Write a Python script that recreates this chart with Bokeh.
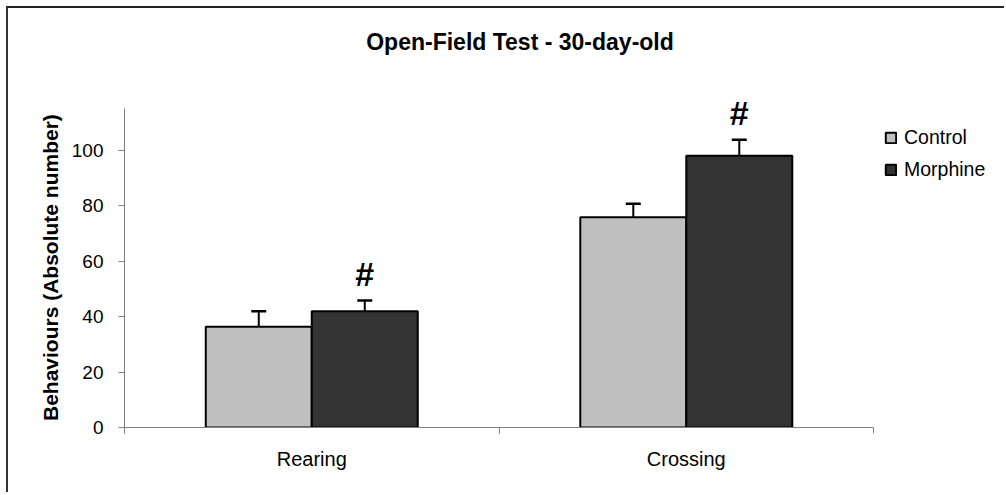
from bokeh.plotting import figure
from bokeh.models import (FixedTicker, LinearAxis, Legend, LegendItem, Label,
                          ColumnDataSource, Whisker, TeeHead)
from bokeh.core.properties import value
from bokeh.embed import file_html
from bokeh.resources import INLINE

categories = ["Rearing", "Crossing"]
series_names = ["Control", "Morphine"]
control = [36.3, 75.8]
control_err = [5.6, 4.8]
morphine = [41.9, 97.9]
morphine_err = [3.9, 5.8]
morphine_sig = ["#", "#"]        # significance marker over Morphine bars
y_ticks = [0, 20, 40, 60, 80, 100]
y_axis_max = 115

FONT = "Liberation Sans"
colors = ["#C0C0C0", "#333333"]
bar_w = 0.283

W, H = 998, 486
p = figure(width=W, height=H, x_range=(0, 2.355), y_range=(0, 151.0),
           x_axis_type=None, output_backend="svg", toolbar_location=None,
           min_border_left=116, min_border_right=0, min_border_top=0,
           min_border_bottom=67)
p.outline_line_color = None
p.xgrid.visible = False
p.ygrid.visible = False
p.background_fill_color = "white"
p.border_fill_color = "white"
p.styles = {"border-left": "2px solid #333333", "border-top": "2px solid #222222",
            "border-right": "none", "border-bottom": "none",
            "outline": "none", "box-shadow": "none",
            "margin-left": "6px", "margin-top": "6px"}

centers = [i + 0.5 for i in range(len(categories))]
renderers = []
for k, (vals, errs) in enumerate([(control, control_err), (morphine, morphine_err)]):
    xs = [c + (k - 0.5) * bar_w for c in centers]
    src = ColumnDataSource(dict(x=xs, top=vals, upper=[v + e for v, e in zip(vals, errs)]))
    r = p.vbar(x="x", top="top", width=bar_w, bottom=0, source=src,
               fill_color=colors[k], line_color="black", line_width=2)
    renderers.append(r)
    w = Whisker(base="x", upper="upper", lower="top", source=src,
                line_color="black", line_width=2,
                upper_head=TeeHead(size=15, line_color="black", line_width=2.5),
                lower_head=None)
    p.add_layout(w)

xs_m = [c + 0.5 * bar_w for c in centers]
p.text(x=xs_m, y=[v + e + 9.5 for v, e in zip(morphine, morphine_err)], text=morphine_sig,
       text_font=value(FONT), text_font_style="bold", text_font_size="34px",
       text_align="center", text_baseline="middle", text_color="black")

# y axis (label padded with no-break spaces so it centres on the drawn axis, not the frame)
ya = p.yaxis[0]
ya.bounds = (0, y_axis_max)
ya.ticker = FixedTicker(ticks=y_ticks)
ya.minor_tick_line_color = None
ya.major_tick_in = 0
ya.major_tick_out = 6
ya.axis_line_color = "#808080"
ya.major_tick_line_color = "#808080"
ya.major_label_text_font = FONT
ya.major_label_text_font_size = "19px"
ya.major_label_text_color = "black"
ya.major_label_standoff = 15
ya.axis_label = "Behaviours (Absolute number)" + "\u00a0" * 17
ya.axis_label_text_font = FONT
ya.axis_label_text_font_style = "bold"
ya.axis_label_text_font_size = "21px"
ya.axis_label_text_color = "black"
ya.axis_label_standoff = 7

# x axis: boundary ticks
xa1 = LinearAxis(ticker=FixedTicker(ticks=[0, 1, 2]), bounds=(0, len(categories)),
                 major_label_overrides={0: "", 1: "", 2: ""},
                 major_label_text_font_size="1px",
                 major_tick_in=0, major_tick_out=6, minor_tick_line_color=None,
                 axis_line_color="#808080", major_tick_line_color="#808080",
                 major_label_standoff=0)
p.add_layout(xa1, "below")
xa2 = LinearAxis(ticker=FixedTicker(ticks=centers),
                 major_label_overrides={c: n for c, n in zip(centers, categories)},
                 major_label_text_font=FONT, major_label_text_font_size="20px",
                 major_label_text_color="black",
                 major_tick_in=0, major_tick_out=0, minor_tick_line_color=None,
                 axis_line_color=None, major_tick_line_color=None,
                 major_label_standoff=14)
p.add_layout(xa2, "below")

# title (screen units, relative to the plot frame)
p.add_layout(Label(x=395.5, y=386, x_units="screen", y_units="screen",
                   text="Open-Field Test - 30-day-old", text_font=FONT,
                   text_font_style="bold", text_font_size="23px",
                   text_align="center", text_baseline="middle", text_color="black"))

legend = Legend(items=[LegendItem(label=n, renderers=[r]) for n, r in zip(series_names, renderers)],
                location=(760, 246), padding=0, margin=0, spacing=9,
                glyph_width=13, glyph_height=13, label_standoff=7,
                label_text_font=FONT, label_text_font_size="19.5px",
                label_text_color="black", border_line_color=None,
                background_fill_alpha=0)
p.add_layout(legend, "center")

open("out.html", "w").write(file_html(p, INLINE))
